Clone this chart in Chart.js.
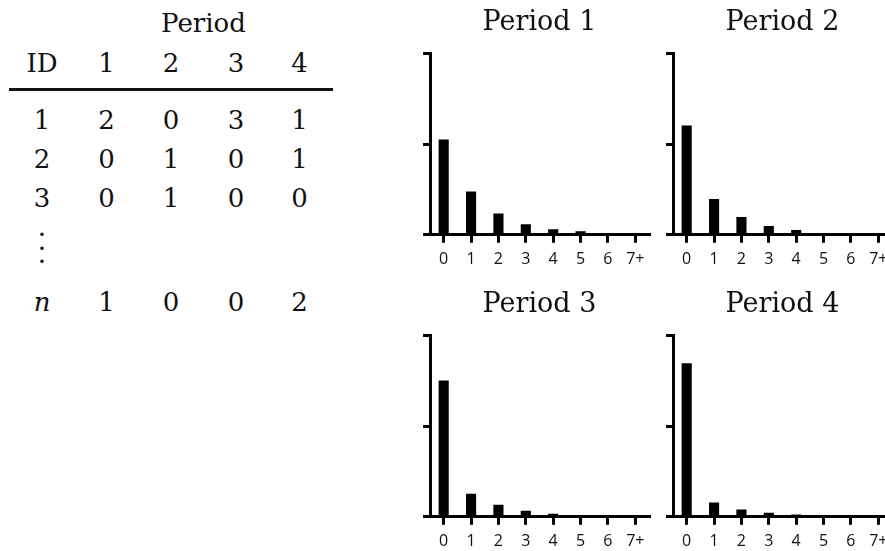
<!DOCTYPE html>
<html>
<head>
<meta charset="utf-8">
<script src="https://cdn.jsdelivr.net/npm/chart.js@4/dist/chart.umd.min.js"></script>
<style>
  html, body { margin: 0; padding: 0; width: 885px; height: 551px; overflow: hidden; background: #fff; }
  #stage { position: relative; width: 885px; height: 551px; overflow: hidden; }
  .cell {
    position: absolute;
    font-family: 'DejaVu Serif', serif;
    font-size: 26px;
    line-height: 26px;
    color: #111;
    white-space: nowrap;
    transform: translateX(-50%);
  }
  .rule { position: absolute; left: 9px; top: 88px; width: 324px; height: 3px; background: #111; }
  .vdots { line-height: 13.5px; text-align: center; }
  canvas { position: absolute; }
</style>
</head>
<body>
<div id="stage">
  <div id="table"></div>
  <canvas id="p1" width="250" height="276" style="left:410px;top:0px"></canvas>
  <canvas id="p2" width="260" height="276" style="left:652px;top:0px"></canvas>
  <canvas id="p3" width="250" height="276" style="left:410px;top:282px"></canvas>
  <canvas id="p4" width="260" height="276" style="left:652px;top:282px"></canvas>
</div>
<script>
// ---- table of example counts ----
const tableHeading = 'Period';
const idLabel = 'ID';
const periodColumns = ['1', '2', '3', '4'];
const rowIds = ['1', '2', '3'];
const rowCounts = [
  [2, 0, 3, 1],
  [0, 1, 0, 1],
  [0, 1, 0, 0]
];
const lastRowId = 'n';
const lastRowCounts = [1, 0, 0, 2];

// ---- distribution of counts per period (share of IDs) ----
const categories = ['0', '1', '2', '3', '4', '5', '6', '7+'];
const periodTitles = ['Period 1', 'Period 2', 'Period 3', 'Period 4'];
const period1 = [0.526, 0.239, 0.117, 0.058, 0.030, 0.019, 0.006, 0.004];
const period2 = [0.602, 0.198, 0.098, 0.048, 0.026, 0.010, 0.006, 0.004];
const period3 = [0.752, 0.127, 0.067, 0.034, 0.017, 0.010, 0.003, 0.002];
const period4 = [0.846, 0.079, 0.040, 0.023, 0.012, 0.004, 0.002, 0.001];

// ---- build the table ----
const table = document.getElementById('table');
const colX = [42, 106.5, 171, 236, 299.5];   // column centres
const BASE_OFF = 22;                          // baseline offset inside a 26px line box

function cell(text, cx, baseline, italic) {
  const d = document.createElement('div');
  d.className = 'cell';
  d.style.left = cx + 'px';
  d.style.top = (baseline - BASE_OFF) + 'px';
  if (italic) d.style.fontStyle = 'italic';
  d.textContent = text;
  table.appendChild(d);
}

cell(tableHeading, 203.5, 32);
cell(idLabel, colX[0], 72);
periodColumns.forEach((p, i) => cell(p, colX[i + 1], 72));

const rule = document.createElement('div');
rule.className = 'rule';
table.appendChild(rule);

const rowBaselines = [129, 168, 207];
rowIds.forEach((id, r) => {
  cell(id, colX[0], rowBaselines[r]);
  rowCounts[r].forEach((v, i) => cell(String(v), colX[i + 1], rowBaselines[r]));
});

const dots = document.createElement('div');
dots.className = 'cell vdots';
dots.style.left = colX[0] + 'px';
dots.style.top = '221px';
dots.innerHTML = '.<br>.<br>.';
table.appendChild(dots);

cell(lastRowId, colX[0], 311, true);
lastRowCounts.forEach((v, i) => cell(String(v), colX[i + 1], 311));

// ---- small-multiple bar charts ----
function makePanel(canvasId, title, values, padLeft, padRight) {
  return new Chart(document.getElementById(canvasId), {
    type: 'bar',
    data: {
      labels: categories,
      datasets: [{
        data: values,
        backgroundColor: '#000',
        borderWidth: 0,
        barPercentage: 0.37,
        categoryPercentage: 1
      }]
    },
    options: {
      responsive: false,
      animation: false,
      events: [],
      layout: { padding: { left: padLeft, right: padRight, top: 2, bottom: 0 } },
      plugins: {
        legend: { display: false },
        tooltip: { enabled: false },
        title: {
          display: true,
          text: title,
          fullSize: false,
          color: '#111',
          font: { family: "'DejaVu Serif', serif", size: 27, weight: 'normal' },
          padding: { top: 5, bottom: 14 }
        }
      },
      scales: {
        x: {
          offset: true,
          grid: { offset: false, drawOnChartArea: false, tickLength: 8, tickWidth: 3, lineWidth: 3, color: '#000' },
          border: { width: 3, color: '#000' },
          ticks: {
            color: '#111',
            padding: 7,
            autoSkip: false,
            maxRotation: 0,
            font: { family: "'Open Sans', sans-serif", size: 16 }
          }
        },
        y: {
          min: 0,
          max: 1,
          grid: { drawOnChartArea: false, tickLength: 7, tickWidth: 3, lineWidth: 3, color: '#000' },
          border: { width: 3, color: '#000' },
          ticks: { display: false, stepSize: 0.5 }
        }
      }
    }
  });
}

makePanel('p1', periodTitles[0], period1, 13, 11);
makePanel('p2', periodTitles[1], period2, 14, 20);
makePanel('p3', periodTitles[2], period3, 13, 11);
makePanel('p4', periodTitles[3], period4, 14, 20);
</script>
</body>
</html>
